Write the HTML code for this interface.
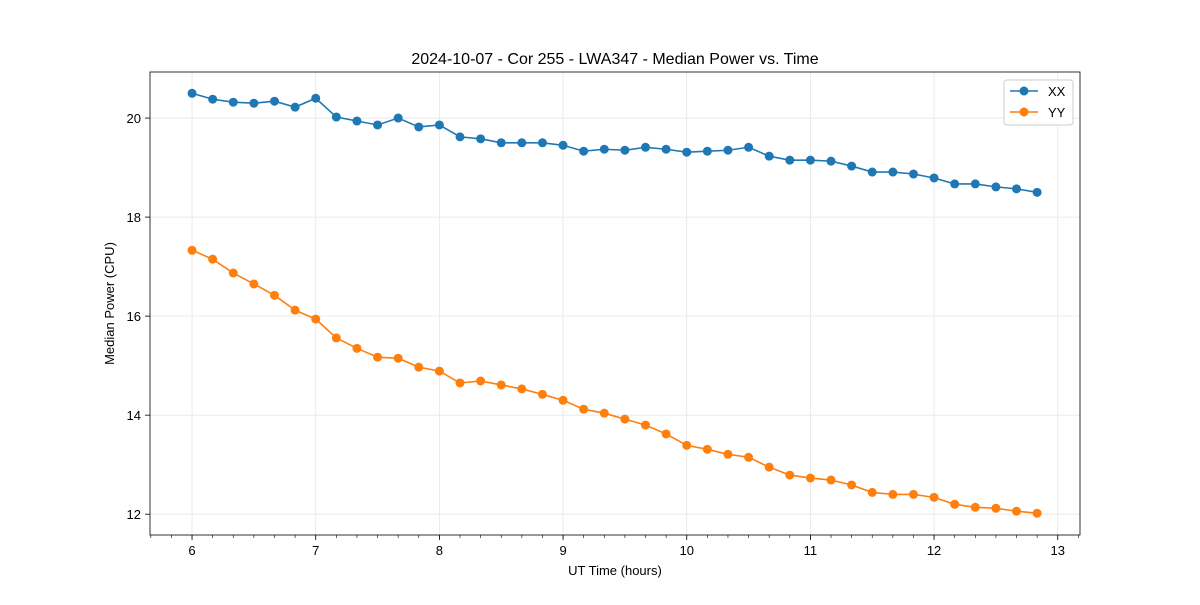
<!DOCTYPE html>
<html><head><meta charset="utf-8"><style>body{margin:0;background:#fff}svg{font-family:"Liberation Sans",sans-serif}</style></head>
<body>
<svg id="c" width="1200" height="600"></svg>
<script>
const xxValues=[20.5,20.38,20.32,20.3,20.34,20.22,20.4,20.02,19.94,19.86,20.0,19.82,19.86,19.62,19.58,19.5,19.5,19.5,19.45,19.33,19.37,19.35,19.41,19.37,19.31,19.33,19.35,19.41,19.23,19.15,19.15,19.13,19.03,18.91,18.91,18.87,18.79,18.67,18.67,18.61,18.57,18.5];
const yyValues=[17.33,17.15,16.87,16.65,16.42,16.12,15.94,15.56,15.35,15.17,15.15,14.97,14.89,14.65,14.69,14.61,14.53,14.42,14.3,14.12,14.04,13.92,13.8,13.62,13.39,13.31,13.21,13.15,12.95,12.79,12.73,12.69,12.59,12.44,12.4,12.4,12.34,12.2,12.14,12.12,12.06,12.02];
const xTicks=[6,7,8,9,10,11,12,13];
const yTicks=[12,14,16,18,20];
const L=150,R=1080,T=72,B=535;
const X0=5.66,X1=13.18,Y0=11.58,Y1=20.93;
const sx=v=>L+(v-X0)/(X1-X0)*(R-L);
const sy=v=>B-(v-Y0)/(Y1-Y0)*(B-T);
const times=xxValues.map((_,i)=>6+i/6);
const svg=document.getElementById('c');
const NS='http://www.w3.org/2000/svg';
function mk(t,a,p){const e=document.createElementNS(NS,t);for(const k in a)e.setAttribute(k,a[k]);(p||svg).appendChild(e);return e;}
xTicks.forEach(v=>{
 const g=mk('line',{x1:sx(v),x2:sx(v),y1:T,y2:B,stroke:'#e6e6e6','stroke-width':0.8});
 
 
 mk('line',{x1:sx(v),x2:sx(v),y1:B,y2:B+5,stroke:'#000','stroke-width':0.8});
 const t=mk('text',{x:sx(v),y:B+20,'text-anchor':'middle','font-size':13});t.textContent=v;
 
 
});
for(let k=34;k<=79;k++){const m=k/6;if(m<X0||m>X1)continue;mk('line',{x1:sx(m),x2:sx(m),y1:B,y2:B+3,stroke:'#000','stroke-width':0.6});}
yTicks.forEach(v=>{
 const g=mk('line',{x1:L,x2:R,y1:sy(v),y2:sy(v),stroke:'#e6e6e6','stroke-width':0.8});
 
 
 mk('line',{x1:L-5,x2:L,y1:sy(v),y2:sy(v),stroke:'#000','stroke-width':0.8});
 const t=mk('text',{x:L-9,y:sy(v)+5,'text-anchor':'end','font-size':13});t.textContent=v;
 
 
});
function series(vals,col,name){
 const p=mk('polyline',{points:vals.map((v,i)=>sx(times[i])+','+sy(v)).join(' '),fill:'none',stroke:col,'stroke-width':1.6});
 
 
 vals.forEach((v,i)=>{const c=mk('circle',{cx:sx(times[i]),cy:sy(v),r:4.5,fill:col});
 
 });
}
series(xxValues,'#1f77b4','xx');
series(yyValues,'#ff7f0e','yy');
const f=mk('rect',{x:L,y:T,width:R-L,height:B-T,fill:'none',stroke:'#000','stroke-width':0.8});


const ti=mk('text',{x:(L+R)/2,y:64,'text-anchor':'middle','font-size':16});ti.textContent='2024-10-07 - Cor 255 - LWA347 - Median Power vs. Time';


const xl=mk('text',{x:(L+R)/2,y:575,'text-anchor':'middle','font-size':13});xl.textContent='UT Time (hours)';


const yl=mk('text',{x:114,y:(T+B)/2,'text-anchor':'middle','font-size':13,transform:'rotate(-90 114 '+(T+B)/2+')'});yl.textContent='Median Power (CPU)';


const lg=mk('g',{});


mk('rect',{x:1004,y:80,width:69,height:45,rx:3,fill:'#fff',stroke:'#ccc'},lg);
[['XX','#1f77b4',91],['YY','#ff7f0e',112]].forEach(([n,c,y])=>{
 mk('line',{x1:1010,x2:1038,y1:y,y2:y,stroke:c,'stroke-width':1.6},lg);
 mk('circle',{cx:1024,cy:y,r:4.5,fill:c},lg);
 const t=mk('text',{x:1048,y:y+5,'font-size':13},lg);t.textContent=n;
 
 
});
</script>
</body></html>
